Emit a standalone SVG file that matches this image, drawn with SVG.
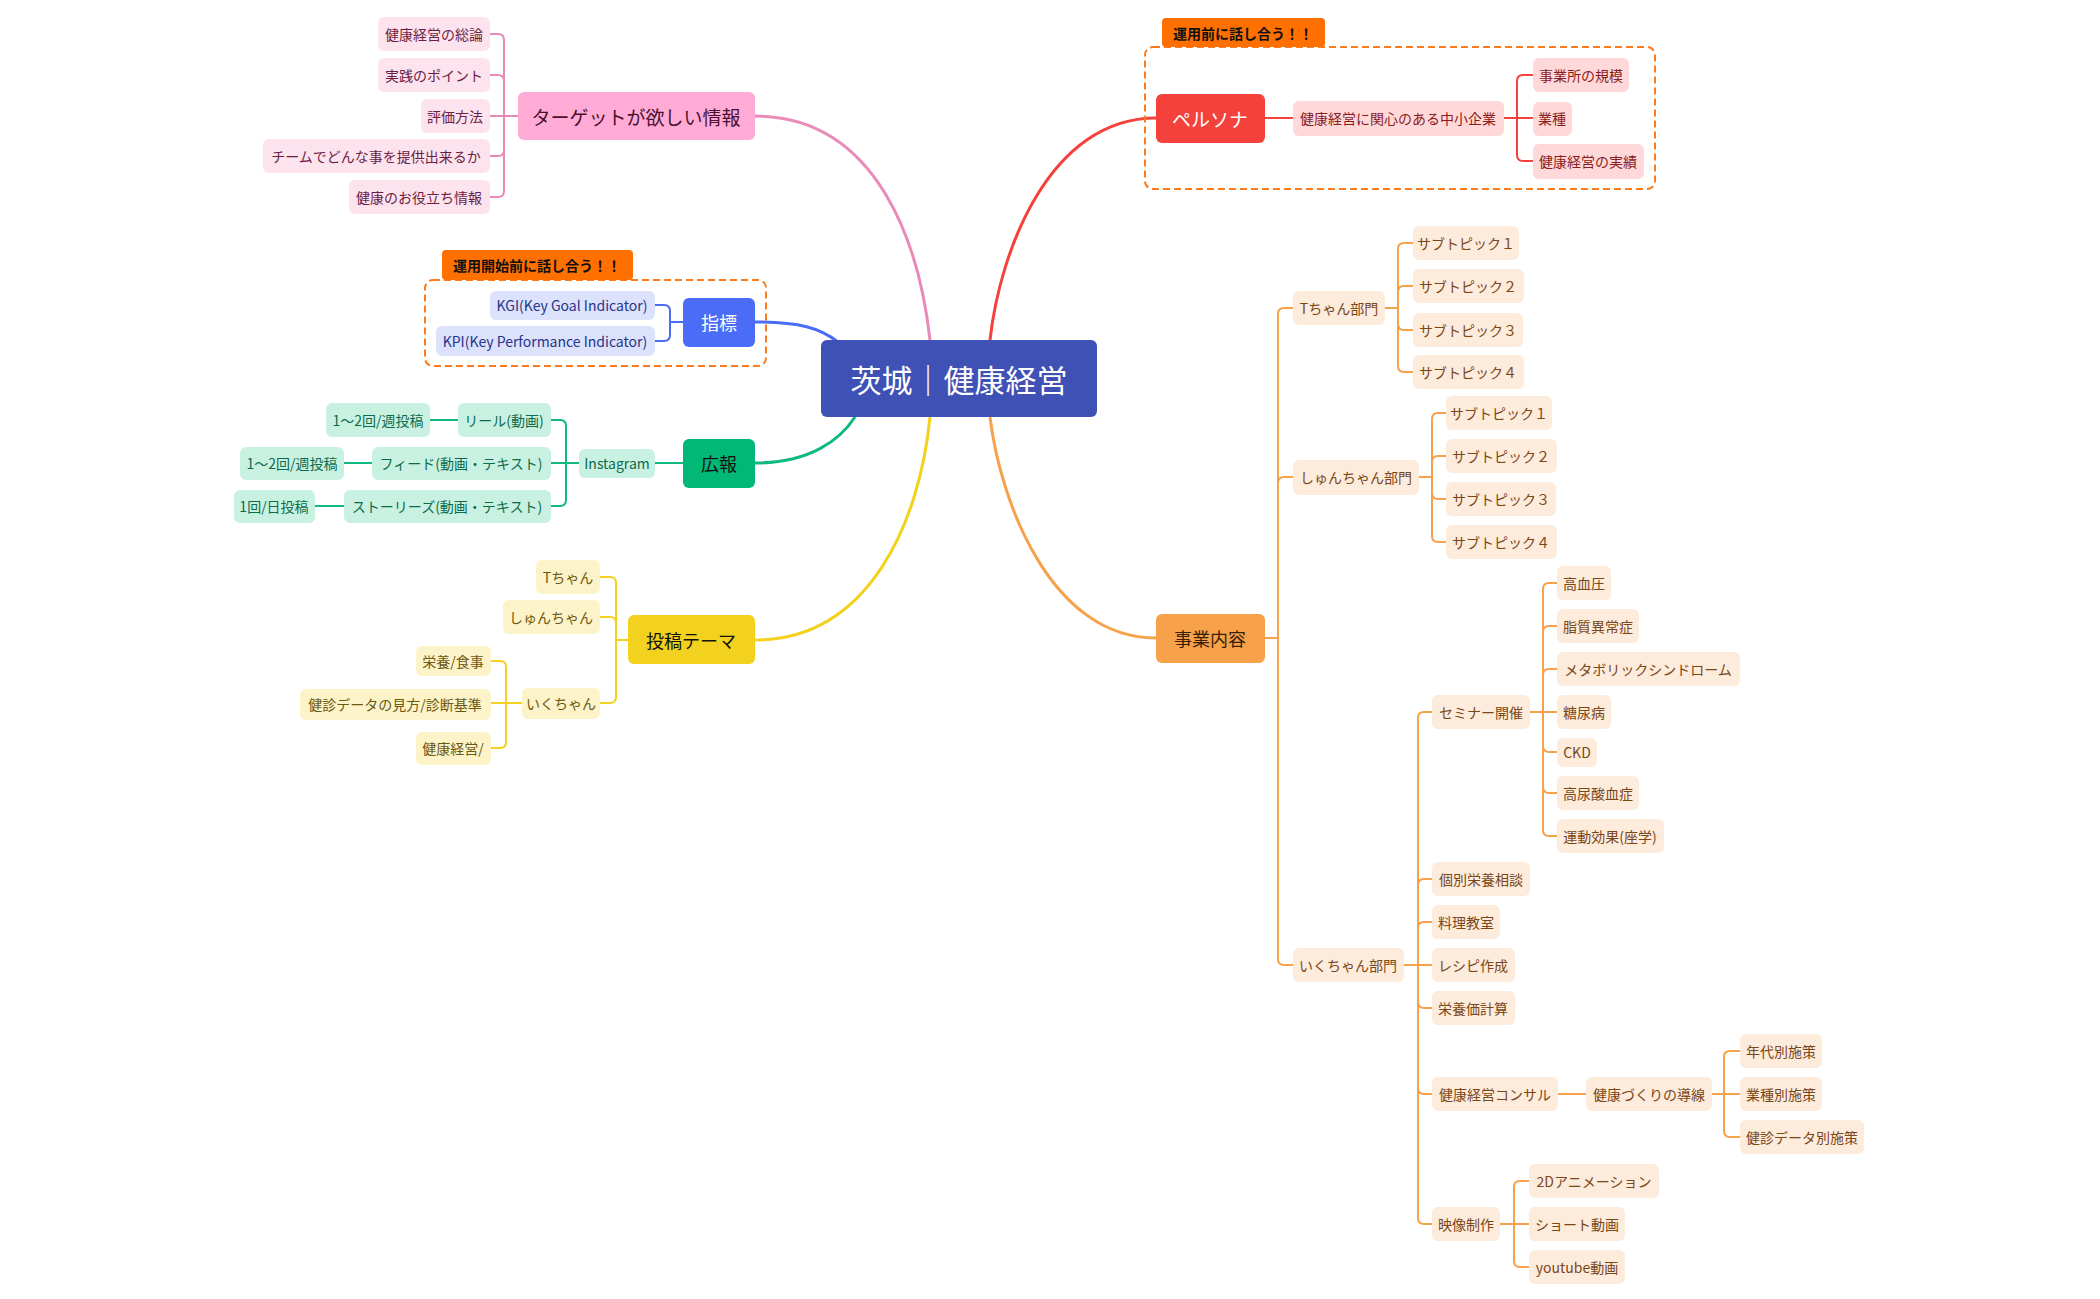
<svg xmlns="http://www.w3.org/2000/svg" width="2100" height="1299" viewBox="0 0 2100 1299">
<style>
text{font-family:"Noto Sans CJK JP","Noto Sans",sans-serif;dominant-baseline:central;text-anchor:middle}
.t{font-size:14px}
.pk rect{fill:#FCE3EE}.pk text{fill:#6E1E44}
.bl rect{fill:#DCE1FC}.bl text{fill:#26348A}
.gr rect{fill:#C9F1E1}.gr text{fill:#0B6B4B}
.yl rect{fill:#FDF3C9}.yl text{fill:#6B5812}
.rd rect{fill:#FFD9D9}.rd text{fill:#8A1C1C}
.or rect{fill:#FDEBDC}.or text{fill:#7A4717}
.c path{fill:none;stroke-width:2}
.m path{fill:none;stroke-width:3}
</style>
<g id="connectors">
<g class="m">
<path d="M755 116C880 116 920 250 930 340" stroke="#E88BB8"/>
<path d="M755 322C800 322 820 328 838 342" stroke="#4A6CF7"/>
<path d="M755 463C810 463 840 440 855 417" stroke="#10B981"/>
<path d="M755 640C870 640 920 520 930 417" stroke="#F2D21F"/>
<path d="M1156 118C1050 118 1000 250 990 340" stroke="#F5413C"/>
<path d="M1156 638C1050 638 1000 500 990 417" stroke="#F7A14B"/>
</g>
<g class="c" stroke="#E88BB8"><path d="M518 116H504V40Q504 34 498 34H490M518 116H504V81Q504 75 498 75H490M518 116H490M518 116H504V150Q504 156 498 156H490M518 116H504V191Q504 197 498 197H490"/></g>
<g class="c" stroke="#4A6CF7"><path d="M683 322H670V311Q670 305 664 305H655M683 322H670V335Q670 341 664 341H655"/></g>
<g class="c" stroke="#10B981"><path d="M683 463H655M579 463H566V426Q566 420 560 420H551M579 463H551M579 463H566V500Q566 506 560 506H551M458 420H430M372 463H344M344 506H315"/></g>
<g class="c" stroke="#F2D21F"><path d="M628 640H616V583Q616 577 610 577H600M628 640H616V623Q616 617 610 617H600M628 640H616V697Q616 703 610 703H600M522 703H506V667Q506 661 500 661H491M522 703H491M522 703H506V742Q506 748 500 748H491"/></g>
<g class="c" stroke="#F5413C"><path d="M1265 118H1293M1504 118H1517V81Q1517 75 1523 75H1533M1504 118H1533M1504 118H1517V155Q1517 161 1523 161H1533"/></g>
<g class="c" stroke="#F7A14B"><path d="M1265 638H1278V314Q1278 308 1284 308H1293M1265 638H1278V483Q1278 477 1284 477H1293M1265 638H1278V959Q1278 965 1284 965H1293
M1385 308H1398V249Q1398 243 1404 243H1413M1385 308H1398V292Q1398 286 1404 286H1413M1385 308H1398V324Q1398 330 1404 330H1413M1385 308H1398V366Q1398 372 1404 372H1413
M1419 477H1432V419Q1432 413 1438 413H1446M1419 477H1432V462Q1432 456 1438 456H1446M1419 477H1432V493Q1432 499 1438 499H1446M1419 477H1432V536Q1432 542 1438 542H1446
M1404 965H1418V718Q1418 712 1424 712H1432M1404 965H1418V885Q1418 879 1424 879H1432M1404 965H1418V928Q1418 922 1424 922H1432M1404 965H1432M1404 965H1418V1002Q1418 1008 1424 1008H1432M1404 965H1418V1088Q1418 1094 1424 1094H1432M1404 965H1418V1218Q1418 1224 1424 1224H1432
M1530 712H1543V589Q1543 583 1549 583H1557M1530 712H1543V632Q1543 626 1549 626H1557M1530 712H1543V675Q1543 669 1549 669H1557M1530 712H1557M1530 712H1543V746Q1543 752 1549 752H1557M1530 712H1543V787Q1543 793 1549 793H1557M1530 712H1543V830Q1543 836 1549 836H1557
M1558 1094H1586M1712 1094H1724V1057Q1724 1051 1730 1051H1740M1712 1094H1740M1712 1094H1724V1131Q1724 1137 1730 1137H1740
M1500 1224H1514V1187Q1514 1181 1520 1181H1529M1500 1224H1529M1500 1224H1514V1261Q1514 1267 1520 1267H1529"/></g>
</g>
<g id="center"><rect x="821" y="340" width="276" height="77" rx="6" fill="#3F51B5"/><text x="959" y="378" font-size="31" fill="#fff">茨城｜健康経営</text></g>

<g id="target"><rect x="518" y="92" width="237" height="48" rx="6" fill="#FFABD6"/><text x="636" y="116" font-size="19" fill="#4a1030">ターゲットが欲しい情報</text></g>
<g class="pk t">
<g id="p1"><rect x="378" y="17" width="112" height="34" rx="6"/><text x="434" y="34">健康経営の総論</text></g>
<g id="p2"><rect x="378" y="58" width="112" height="34" rx="6"/><text x="434" y="75">実践のポイント</text></g>
<g id="p3"><rect x="421" y="99" width="69" height="34" rx="6"/><text x="455" y="116">評価方法</text></g>
<g id="p4"><rect x="263" y="139" width="227" height="34" rx="6"/><text x="376" y="156">チームでどんな事を提供出来るか</text></g>
<g id="p5"><rect x="349" y="180" width="141" height="34" rx="6"/><text x="419" y="197">健康のお役立ち情報</text></g>
</g>

<g id="idx-frame"><rect x="425" y="280" width="341" height="86" rx="8" fill="none" stroke="#FF7A1A" stroke-width="2" stroke-dasharray="7 4"/><rect x="442" y="250" width="191" height="30" rx="4" fill="#FF7000"/><text x="537" y="265" font-size="14" font-weight="bold" fill="#111">運用開始前に話し合う！！</text></g>
<g id="idx"><rect x="683" y="298" width="72" height="49" rx="6" fill="#4A6CF7"/><text x="719" y="322" font-size="18" fill="#fff">指標</text></g>
<g class="bl t">
<g id="kgi"><rect x="490" y="291" width="165" height="29" rx="6"/><text x="572" y="305">KGI(Key Goal Indicator)</text></g>
<g id="kpi"><rect x="436" y="326" width="219" height="30" rx="6"/><text x="545" y="341">KPI(Key Performance Indicator)</text></g>
</g>

<g id="pr"><rect x="683" y="439" width="72" height="49" rx="6" fill="#02B877"/><text x="719" y="463" font-size="18" fill="#111">広報</text></g>
<g class="gr t">
<g id="ig"><rect x="579" y="449" width="76" height="29" rx="6"/><text x="617" y="463">Instagram</text></g>
<g id="g1"><rect x="458" y="403" width="93" height="34" rx="6"/><text x="504" y="420">リール(動画)</text></g>
<g id="g2"><rect x="372" y="447" width="179" height="33" rx="6"/><text x="461" y="463">フィード(動画・テキスト)</text></g>
<g id="g3"><rect x="344" y="490" width="207" height="33" rx="6"/><text x="447" y="506">ストーリーズ(動画・テキスト)</text></g>
<g id="g4"><rect x="326" y="403" width="104" height="34" rx="6"/><text x="378" y="420">1～2回/週投稿</text></g>
<g id="g5"><rect x="240" y="447" width="104" height="33" rx="6"/><text x="292" y="463">1～2回/週投稿</text></g>
<g id="g6"><rect x="234" y="490" width="81" height="33" rx="6"/><text x="274" y="506">1回/日投稿</text></g>
</g>

<g id="theme"><rect x="628" y="615" width="127" height="49" rx="6" fill="#F2D21F"/><text x="691" y="640" font-size="18" fill="#111">投稿テーマ</text></g>
<g class="yl t">
<g id="y1"><rect x="536" y="560" width="64" height="34" rx="6"/><text x="568" y="577">Tちゃん</text></g>
<g id="y2"><rect x="503" y="600" width="97" height="34" rx="6"/><text x="551" y="617">しゅんちゃん</text></g>
<g id="y3"><rect x="522" y="688" width="78" height="31" rx="6"/><text x="561" y="703">いくちゃん</text></g>
<g id="y4"><rect x="416" y="646" width="75" height="30" rx="6"/><text x="453" y="661">栄養/食事</text></g>
<g id="y5"><rect x="300" y="689" width="191" height="31" rx="6"/><text x="395" y="704">健診データの見方/診断基準</text></g>
<g id="y6"><rect x="416" y="732" width="75" height="33" rx="6"/><text x="453" y="748">健康経営/</text></g>
</g>

<g id="persona-frame"><rect x="1145" y="47" width="510" height="142" rx="8" fill="none" stroke="#FF7A1A" stroke-width="2" stroke-dasharray="7 4"/><rect x="1162" y="18" width="163" height="29" rx="4" fill="#FF7000"/><text x="1243" y="33" font-size="14" font-weight="bold" fill="#111">運用前に話し合う！！</text></g>
<g id="persona"><rect x="1156" y="94" width="109" height="49" rx="6" fill="#F5413C"/><text x="1210" y="118" font-size="19" fill="#fff">ペルソナ</text></g>
<g class="rd t">
<g id="r1"><rect x="1293" y="101" width="211" height="35" rx="6"/><text x="1398" y="118">健康経営に関心のある中小企業</text></g>
<g id="r2"><rect x="1533" y="58" width="96" height="34" rx="6"/><text x="1581" y="75">事業所の規模</text></g>
<g id="r3"><rect x="1533" y="102" width="39" height="34" rx="6"/><text x="1552" y="118">業種</text></g>
<g id="r4"><rect x="1533" y="144" width="111" height="35" rx="6"/><text x="1588" y="161">健康経営の実績</text></g>
</g>

<g id="biz"><rect x="1156" y="614" width="109" height="49" rx="6" fill="#F7A14B"/><text x="1210" y="638" font-size="18" fill="#3a1e05">事業内容</text></g>
<g class="or t">
<g id="o1"><rect x="1293" y="291" width="92" height="34" rx="6"/><text x="1339" y="308">Tちゃん部門</text></g>
<g id="o2"><rect x="1413" y="226" width="106" height="34" rx="6"/><text x="1466" y="243">サブトピック１</text></g>
<g id="o3"><rect x="1413" y="269" width="111" height="34" rx="6"/><text x="1468" y="286">サブトピック２</text></g>
<g id="o4"><rect x="1413" y="313" width="110" height="34" rx="6"/><text x="1468" y="330">サブトピック３</text></g>
<g id="o5"><rect x="1413" y="355" width="111" height="34" rx="6"/><text x="1468" y="372">サブトピック４</text></g>
<g id="o6"><rect x="1293" y="460" width="126" height="35" rx="6"/><text x="1356" y="477">しゅんちゃん部門</text></g>
<g id="o7"><rect x="1446" y="396" width="106" height="34" rx="6"/><text x="1499" y="413">サブトピック１</text></g>
<g id="o8"><rect x="1446" y="439" width="111" height="34" rx="6"/><text x="1501" y="456">サブトピック２</text></g>
<g id="o9"><rect x="1446" y="482" width="110" height="34" rx="6"/><text x="1501" y="499">サブトピック３</text></g>
<g id="o10"><rect x="1446" y="525" width="111" height="34" rx="6"/><text x="1501" y="542">サブトピック４</text></g>
<g id="o11"><rect x="1293" y="948" width="111" height="34" rx="6"/><text x="1348" y="965">いくちゃん部門</text></g>
<g id="o12"><rect x="1432" y="695" width="98" height="34" rx="6"/><text x="1481" y="712">セミナー開催</text></g>
<g id="o13"><rect x="1557" y="566" width="54" height="34" rx="6"/><text x="1584" y="583">高血圧</text></g>
<g id="o14"><rect x="1557" y="609" width="82" height="34" rx="6"/><text x="1598" y="626">脂質異常症</text></g>
<g id="o15"><rect x="1557" y="652" width="183" height="34" rx="6"/><text x="1648" y="669">メタボリックシンドローム</text></g>
<g id="o16"><rect x="1557" y="695" width="54" height="34" rx="6"/><text x="1584" y="712">糖尿病</text></g>
<g id="o17"><rect x="1557" y="738" width="40" height="29" rx="6"/><text x="1577" y="752">CKD</text></g>
<g id="o18"><rect x="1557" y="776" width="82" height="34" rx="6"/><text x="1598" y="793">高尿酸血症</text></g>
<g id="o19"><rect x="1557" y="819" width="107" height="34" rx="6"/><text x="1610" y="836">運動効果(座学)</text></g>
<g id="o20"><rect x="1432" y="862" width="98" height="34" rx="6"/><text x="1481" y="879">個別栄養相談</text></g>
<g id="o21"><rect x="1432" y="905" width="68" height="34" rx="6"/><text x="1466" y="922">料理教室</text></g>
<g id="o22"><rect x="1432" y="948" width="83" height="34" rx="6"/><text x="1473" y="965">レシピ作成</text></g>
<g id="o23"><rect x="1432" y="991" width="83" height="34" rx="6"/><text x="1473" y="1008">栄養価計算</text></g>
<g id="o24"><rect x="1432" y="1077" width="126" height="34" rx="6"/><text x="1495" y="1094">健康経営コンサル</text></g>
<g id="o25"><rect x="1586" y="1077" width="126" height="34" rx="6"/><text x="1649" y="1094">健康づくりの導線</text></g>
<g id="o26"><rect x="1740" y="1034" width="82" height="34" rx="6"/><text x="1781" y="1051">年代別施策</text></g>
<g id="o27"><rect x="1740" y="1077" width="82" height="34" rx="6"/><text x="1781" y="1094">業種別施策</text></g>
<g id="o28"><rect x="1740" y="1120" width="124" height="34" rx="6"/><text x="1802" y="1137">健診データ別施策</text></g>
<g id="o29"><rect x="1432" y="1207" width="68" height="34" rx="6"/><text x="1466" y="1224">映像制作</text></g>
<g id="o30"><rect x="1529" y="1164" width="130" height="34" rx="6"/><text x="1594" y="1181">2Dアニメーション</text></g>
<g id="o31"><rect x="1529" y="1207" width="96" height="34" rx="6"/><text x="1577" y="1224">ショート動画</text></g>
<g id="o32"><rect x="1529" y="1250" width="96" height="34" rx="6"/><text x="1577" y="1267">youtube動画</text></g>
</g>
</svg>
